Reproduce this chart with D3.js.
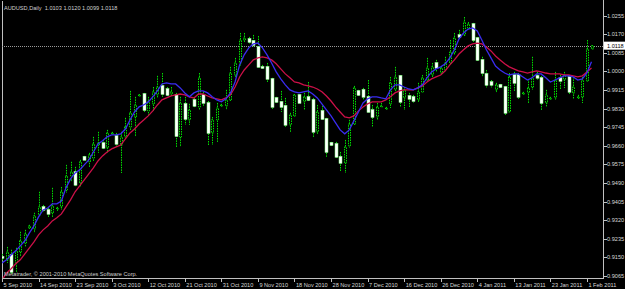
<!DOCTYPE html>
<html><head><meta charset="utf-8">
<script src="https://cdn.jsdelivr.net/npm/d3@7"></script>
<style>html,body{margin:0;padding:0;background:#000;overflow:hidden}svg{display:block}</style>
</head><body><svg id="c" width="625" height="289"></svg>
<script>
// ---------- data ----------
const symbolTitle = "AUDUSD,Daily";
const lastQuote = [1.0103, 1.0120, 1.0099, 1.0118];
const copyright = "Metatrader, \u00a9 2001-2010 MetaQuotes Software Corp.";
const firstBarDate = "2010-09-05";
const bidPrice = 1.0118;
const priceTicks = [1.0255,1.0170,1.0085,1.0000,0.9915,0.9830,0.9745,0.9660,0.9575,0.9490,0.9405,0.9320,0.9235,0.9150,0.9065];
const dateTickEvery = 8;

const open = [0.9153,0.9139,0.9162,0.9125,0.9175,0.9216,0.9285,0.9280,0.9344,0.9381,
0.9367,0.9354,0.9372,0.9381,0.9459,0.9523,0.9541,0.9491,0.9610,0.9587,
0.9605,0.9664,0.9673,0.9651,0.9715,0.9705,0.9664,0.9701,0.9747,0.9792,
0.9888,0.9897,0.9820,0.9852,0.9893,0.9934,0.9920,0.9897,0.9893,0.9701,
0.9852,0.9779,0.9870,0.9838,0.9893,0.9856,0.9719,0.9779,0.9843,0.9843,
0.9870,0.9984,1.0039,1.0144,1.0149,1.0140,1.0112,1.0021,1.0021,0.9966,
0.9879,0.9861,0.9843,0.9756,0.9797,0.9893,0.9861,0.9884,0.9870,0.9724,
0.9820,0.9783,0.9674,0.9669,0.9610,0.9582,0.9660,0.9760,0.9911,0.9916,
0.9884,0.9824,0.9792,0.9838,0.9829,0.9852,0.9916,0.9980,0.9879,0.9888,
0.9884,0.9870,0.9907,0.9961,0.9984,1.0039,0.9993,1.0007,1.0039,1.0085,
1.0167,1.0167,1.0199,1.0217,1.0153,1.0053,0.9989,0.9952,0.9916,0.9939,
0.9929,0.9815,0.9984,0.9984,0.9897,0.9902,0.9929,0.9980,0.9971,0.9856,
0.9875,0.9879,0.9971,0.9961,0.9975,0.9902,0.9879,0.9884,0.9957,1.0103];

const high = [0.9166,0.9198,0.9185,0.9194,0.9267,0.9276,0.9299,0.9354,0.9450,0.9390,
0.9376,0.9468,0.9381,0.9472,0.9573,0.9587,0.9564,0.9596,0.9614,0.9628,
0.9701,0.9724,0.9687,0.9733,0.9724,0.9719,0.9724,0.9788,0.9911,0.9884,
0.9897,0.9902,0.9884,0.9929,0.9980,0.9993,0.9929,0.9929,0.9902,0.9884,
0.9884,0.9852,0.9879,0.9993,0.9907,0.9865,0.9792,0.9856,0.9852,0.9916,
1.0021,1.0062,1.0176,1.0176,1.0158,1.0167,1.0162,1.0030,1.0039,0.9971,
0.9884,0.9911,0.9879,0.9811,0.9897,0.9897,0.9902,0.9952,0.9879,0.9847,
0.9843,0.9788,0.9678,0.9678,0.9632,0.9687,0.9779,0.9934,0.9916,0.9925,
0.9961,0.9847,0.9856,0.9856,0.9838,0.9975,1.0021,0.9984,0.9929,0.9902,
0.9893,0.9948,0.9984,1.0062,1.0039,1.0053,1.0025,1.0067,1.0144,1.0176,
1.0190,1.0249,1.0226,1.0222,1.0158,1.0067,1.0007,0.9961,0.9948,0.9943,
0.9934,0.9993,0.9998,0.9993,0.9907,0.9966,1.0067,0.9998,0.9980,0.9916,
0.9884,0.9998,0.9984,0.9998,0.9984,0.9975,0.9893,0.9975,1.0144,1.0120];

const low = [0.9130,0.9125,0.9075,0.9084,0.9153,0.9198,0.9280,0.9262,0.9335,0.9358,
0.9331,0.9331,0.9363,0.9367,0.9445,0.9495,0.9472,0.9472,0.9591,0.9564,
0.9587,0.9628,0.9642,0.9628,0.9710,0.9655,0.9536,0.9696,0.9733,0.9701,
0.9884,0.9811,0.9797,0.9815,0.9879,0.9884,0.9884,0.9884,0.9655,0.9655,
0.9756,0.9756,0.9833,0.9824,0.9843,0.9660,0.9664,0.9678,0.9838,0.9824,
0.9861,0.9975,1.0025,1.0135,1.0126,1.0112,1.0016,1.0012,0.9952,0.9829,
0.9856,0.9815,0.9747,0.9724,0.9792,0.9852,0.9824,0.9865,0.9701,0.9715,
0.9779,0.9610,0.9655,0.9605,0.9541,0.9536,0.9651,0.9756,0.9888,0.9870,
0.9811,0.9747,0.9779,0.9833,0.9824,0.9833,0.9902,0.9838,0.9824,0.9838,
0.9856,0.9861,0.9902,0.9952,0.9975,0.9998,0.9989,0.9998,1.0030,1.0076,
1.0144,1.0158,1.0190,1.0135,1.0044,0.9975,0.9925,0.9925,0.9902,0.9925,
0.9801,0.9811,0.9907,0.9875,0.9893,0.9856,0.9916,0.9961,0.9824,0.9838,
0.9870,0.9870,0.9916,0.9925,0.9893,0.9875,0.9875,0.9856,0.9952,1.0099];

const close = [0.9148,0.9175,0.9084,0.9180,0.9226,0.9258,0.9294,0.9340,0.9381,0.9367,
0.9349,0.9386,0.9376,0.9450,0.9523,0.9541,0.9482,0.9587,0.9596,0.9619,
0.9669,0.9673,0.9651,0.9719,0.9719,0.9669,0.9701,0.9747,0.9811,0.9847,
0.9893,0.9824,0.9861,0.9907,0.9929,0.9897,0.9893,0.9907,0.9705,0.9856,
0.9783,0.9824,0.9843,0.9971,0.9856,0.9719,0.9779,0.9833,0.9847,0.9870,
0.9993,1.0039,1.0144,1.0153,1.0135,1.0121,1.0021,1.0016,0.9966,0.9838,
0.9861,0.9838,0.9756,0.9801,0.9893,0.9856,0.9884,0.9870,0.9724,0.9815,
0.9783,0.9632,0.9664,0.9610,0.9582,0.9655,0.9760,0.9925,0.9893,0.9884,
0.9815,0.9792,0.9838,0.9843,0.9833,0.9948,0.9975,0.9861,0.9916,0.9875,
0.9865,0.9907,0.9971,1.0016,1.0021,1.0016,1.0016,1.0039,1.0089,1.0153,
1.0158,1.0226,1.0217,1.0144,1.0053,0.9993,0.9939,0.9939,0.9939,0.9929,
0.9811,0.9975,0.9948,0.9884,0.9902,0.9925,0.9971,0.9971,0.9856,0.9893,
0.9879,0.9961,0.9957,0.9984,0.9907,0.9929,0.9884,0.9961,1.0103,1.0118];

const maFast = [0.9125,0.9139,0.9162,0.9180,0.9203,0.9226,0.9262,0.9294,0.9335,0.9367,
0.9376,0.9395,0.9395,0.9408,0.9468,0.9509,0.9536,0.9550,0.9573,0.9596,
0.9632,0.9669,0.9683,0.9701,0.9710,0.9710,0.9715,0.9737,0.9778,0.9815,
0.9838,0.9847,0.9861,0.9884,0.9911,0.9943,0.9948,0.9943,0.9943,0.9925,
0.9902,0.9884,0.9902,0.9911,0.9911,0.9902,0.9884,0.9870,0.9861,0.9875,
0.9902,0.9952,1.0030,1.0076,1.0108,1.0126,1.0130,1.0108,1.0076,1.0039,
0.9998,0.9966,0.9939,0.9916,0.9907,0.9902,0.9907,0.9911,0.9897,0.9879,
0.9852,0.9824,0.9797,0.9765,0.9733,0.9715,0.9733,0.9774,0.9815,0.9856,
0.9875,0.9884,0.9884,0.9879,0.9875,0.9916,0.9939,0.9939,0.9929,0.9920,
0.9916,0.9925,0.9939,0.9971,0.9998,1.0012,1.0021,1.0035,1.0062,1.0099,
1.0149,1.0176,1.0194,1.0199,1.0185,1.0144,1.0099,1.0062,1.0025,1.0007,
0.9993,0.9984,0.9989,0.9989,0.9975,0.9961,0.9971,0.9989,0.9989,0.9971,
0.9952,0.9961,0.9971,0.9980,0.9980,0.9975,0.9961,0.9966,0.9993,1.0044];

const maSlow = [0.9047,0.9079,0.9098,0.9121,0.9139,0.9166,0.9194,0.9221,0.9253,0.9276,
0.9294,0.9317,0.9331,0.9349,0.9381,0.9413,0.9450,0.9477,0.9504,0.9532,
0.9559,0.9591,0.9614,0.9632,0.9646,0.9655,0.9664,0.9692,0.9719,0.9737,
0.9760,0.9778,0.9797,0.9820,0.9847,0.9870,0.9879,0.9888,0.9893,0.9897,
0.9893,0.9884,0.9879,0.9897,0.9897,0.9888,0.9879,0.9875,0.9870,0.9879,
0.9893,0.9929,0.9975,1.0007,1.0030,1.0053,1.0062,1.0067,1.0062,1.0053,
1.0035,1.0012,0.9989,0.9971,0.9952,0.9948,0.9939,0.9934,0.9929,0.9920,
0.9907,0.9888,0.9865,0.9838,0.9815,0.9792,0.9788,0.9797,0.9820,0.9838,
0.9852,0.9861,0.9861,0.9861,0.9870,0.9884,0.9902,0.9911,0.9916,0.9916,
0.9916,0.9925,0.9934,0.9952,0.9966,0.9975,0.9984,1.0003,1.0030,1.0053,
1.0080,1.0099,1.0117,1.0126,1.0130,1.0126,1.0112,1.0094,1.0071,1.0053,
1.0035,1.0021,1.0012,1.0003,0.9998,0.9993,0.9998,1.0003,0.9998,0.9993,
0.9989,0.9989,0.9989,0.9984,0.9984,0.9980,0.9975,0.9980,0.9998,1.0016];

// ---------- categories (trading days, Sunday bars included) ----------
const bars = [];
{
  let d = new Date(firstBarDate + "T00:00:00Z");
  while (bars.length < open.length) {
    if (d.getUTCDay() !== 6) bars.push(new Date(d));
    d = new Date(d.getTime() + 86400000);
  }
}
const fmtDate = d3.utcFormat("%-d %b %Y");

// ---------- layout ----------
const W = 625, H = 289;
const plot = {left: 2, top: 1, right: 603, bottom: 278};
const svg = d3.select("#c");
svg.append("rect").attr("width", W).attr("height", H).attr("fill", "#000");

const x = d3.scalePoint().domain(d3.range(open.length)).range([2, 591.5]);
const y = d3.scaleLinear().domain([0.9065, 1.0255]).range([276, 15.7]);

const defs = svg.append("defs");
defs.append("clipPath").attr("id", "clip").append("rect")
  .attr("x", plot.left).attr("y", plot.top)
  .attr("width", plot.right - plot.left).attr("height", plot.bottom - plot.top);

const FONT = "'Liberation Sans', Arial, sans-serif";
const frameCol = "#c0c0c0";

// frame
svg.append("line").attr("x1", plot.left + 0.5).attr("x2", plot.left + 0.5)
  .attr("y1", plot.top).attr("y2", plot.bottom).attr("stroke", frameCol);
svg.append("line").attr("x1", plot.right + 0.5).attr("x2", plot.right + 0.5)
  .attr("y1", 0).attr("y2", plot.bottom + 0.5).attr("stroke", frameCol);
svg.append("line").attr("x1", plot.left).attr("x2", plot.right + 1)
  .attr("y1", plot.bottom + 0.5).attr("y2", plot.bottom + 0.5).attr("stroke", frameCol);

const g = svg.append("g").attr("clip-path", "url(#clip)");

// bid line
g.append("line").attr("x1", plot.left).attr("x2", plot.right)
  .attr("y1", Math.round(y(bidPrice)) + 0.5).attr("y2", Math.round(y(bidPrice)) + 0.5)
  .attr("stroke", "#9a9a9a").attr("stroke-dasharray", "1,1");

// candles
const green = "#00e000";
const idx = d3.range(open.length);
const isBull = i => close[i] >= open[i];
const cg = g.append("g");
cg.selectAll("line.wick").data(idx).join("line").attr("class", "wick")
  .attr("x1", i => Math.round(x(i)) + 0.5).attr("x2", i => Math.round(x(i)) + 0.5)
  .attr("y1", i => y(high[i])).attr("y2", i => y(low[i]))
  .attr("stroke", green).attr("stroke-width", 1).attr("stroke-dasharray", "1.5,1");
// bull bodies: black with dotted green outline
cg.selectAll("rect.bull").data(idx.filter(isBull)).join("rect").attr("class", "bull")
  .attr("x", i => Math.round(x(i)) - 0.5).attr("width", 2)
  .attr("y", i => y(close[i]))
  .attr("height", i => Math.max(1, y(open[i]) - y(close[i])))
  .attr("fill", "#000").attr("stroke", green).attr("stroke-width", 1)
  .attr("stroke-dasharray", "1.5,1");
// bear bodies: white with green edge
cg.selectAll("rect.bear").data(idx.filter(i => !isBull(i))).join("rect").attr("class", "bear")
  .attr("x", i => Math.round(x(i)) - 1).attr("width", 3)
  .attr("y", i => y(open[i]) - 0.5)
  .attr("height", i => Math.max(1.5, y(close[i]) - y(open[i]) + 1))
  .attr("fill", "#ffffff").attr("stroke", "#7cff7c").attr("stroke-width", 0.5);

// moving averages
const lineGen = arr => d3.line().x((d, i) => x(i)).y(d => y(d))(arr);
g.append("path").attr("d", lineGen(maSlow)).attr("fill", "none")
  .attr("stroke", "#cc1048").attr("stroke-width", 1.3);
g.append("path").attr("d", lineGen(maFast)).attr("fill", "none")
  .attr("stroke", "#3a2cf0").attr("stroke-width", 1.3);

// title
svg.append("text").attr("x", 4).attr("y", 9.5).attr("fill", "#d0d0d0")
  .attr("font-family", FONT).attr("font-size", 5.6).attr("xml:space", "preserve")
  .text(symbolTitle + "  " + lastQuote.map(v => v.toFixed(4)).join(" "));

// copyright
svg.append("text").attr("x", 4).attr("y", 276).attr("fill", "#d0d0d0")
  .attr("font-family", FONT).attr("font-size", 5.6).text(copyright);

// price axis
const ya = svg.append("g");
ya.selectAll("line").data(priceTicks).join("line")
  .attr("x1", plot.right + 1).attr("x2", plot.right + 4)
  .attr("y1", d => Math.round(y(d)) + 0.5).attr("y2", d => Math.round(y(d)) + 0.5)
  .attr("stroke", frameCol);
ya.selectAll("text").data(priceTicks).join("text")
  .attr("x", 607).attr("y", d => y(d) + 2)
  .attr("fill", "#d8d8d8").attr("font-family", FONT).attr("font-size", 5.6)
  .text(d => d.toFixed(4));

// bid label
svg.append("rect").attr("x", 604).attr("y", y(bidPrice) - 4).attr("width", 21).attr("height", 8)
  .attr("fill", "#ffffff");
svg.append("text").attr("x", 607).attr("y", y(bidPrice) + 2).attr("fill", "#000")
  .attr("font-family", FONT).attr("font-size", 5.6).text(bidPrice.toFixed(4));

// date axis
const dateIdx = idx.filter(i => i % dateTickEvery === 0);
const xa = svg.append("g");
xa.selectAll("line").data(dateIdx).join("line")
  .attr("x1", i => Math.round(x(i)) + 0.5).attr("x2", i => Math.round(x(i)) + 0.5)
  .attr("y1", plot.bottom + 1).attr("y2", plot.bottom + 4).attr("stroke", frameCol);
xa.selectAll("text").data(dateIdx).join("text")
  .attr("x", i => x(i) + 1.5).attr("y", 287)
  .attr("fill", "#d8d8d8").attr("font-family", FONT).attr("font-size", 5.6)
  .text(i => fmtDate(bars[i]));
</script>
</body></html>
